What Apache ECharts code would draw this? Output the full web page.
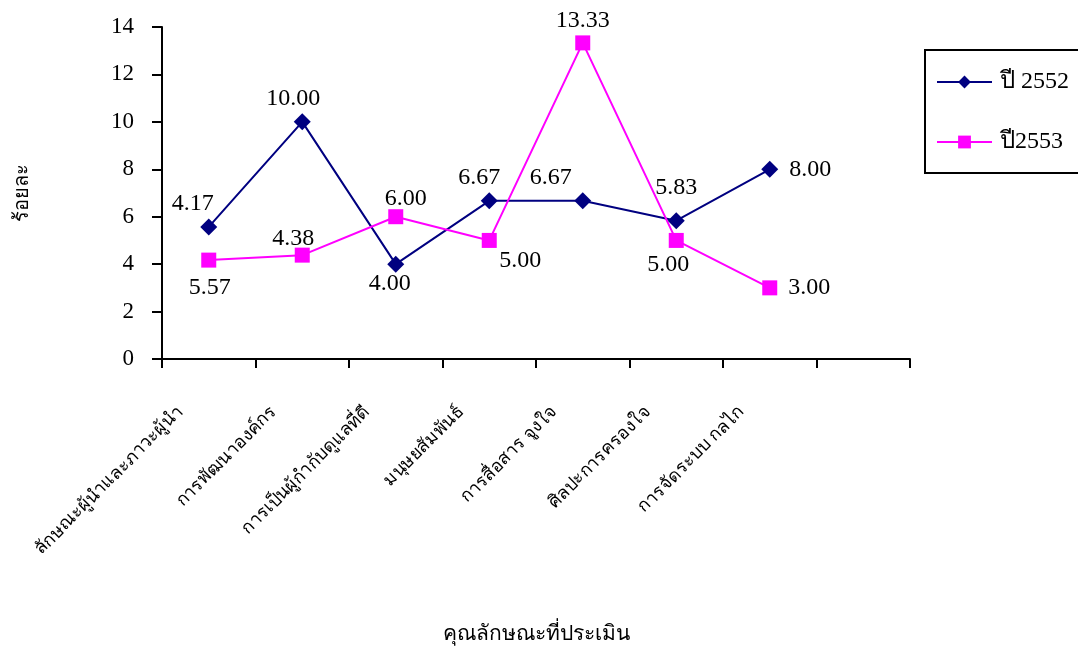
<!DOCTYPE html>
<html>
<head>
<meta charset="utf-8">
<script src="https://cdn.jsdelivr.net/npm/echarts@6/dist/echarts.min.js"></script>
<style>
html,body{margin:0;padding:0;background:#fff;}
#chart{width:1078px;height:650px;}
</style>
</head>
<body>
<div id="chart"></div>
<script>
const categories = ['ลักษณะผู้นำและภาวะผู้นำ','การพัฒนาองค์กร','การเป็นผู้กำกับดูแลที่ดี','มนุษยสัมพันธ์','การสื่อสาร จูงใจ','ศิลปะการครองใจ','การจัดระบบ กลไก',''];
const seriesNames = ['ปี 2552','ปี2553'];
const values2552 = [5.57, 10.00, 4.00, 6.67, 6.67, 5.83, 8.00];
const values2553 = [4.17, 4.38, 6.00, 5.00, 13.33, 5.00, 3.00];
const labels2552 = ['4.17','10.00','4.00','6.67','6.67','5.83','8.00'];
const labels2553 = ['5.57','4.38','6.00','5.00','13.33','5.00','3.00'];
const yTicks = {min:0, max:14, interval:2};
const xAxisTitle = 'คุณลักษณะที่ประเมิน';
const yAxisTitle = 'ร้อยละ';

const FONT = "'Liberation Serif','Noto Sans','DejaVu Sans',serif";
// label placement (style only)
const place2552 = [['top',[-16,2]],['top',[-9,2]],['bottom',[-6,-6]],['top',[-10,2]],['top',[-32,2]],['top',[0,-8]],['right',[6,0]]];
const place2553 = [['bottom',[1,3]],['top',[-9,8]],['top',[10,6]],['bottom',[31,-4]],['top',[0,2]],['bottom',[-8,0]],['right',[6,0]]];

function build(vals, labels, place){
  return vals.map((v,i)=>({
    value:v,
    label:{show:true, position:place[i][0], offset:place[i][1], formatter:labels[i],
      fontFamily:FONT, fontSize:24, color:'#000'}
  }));
}

const chart = echarts.init(document.getElementById('chart'), null, {renderer:'canvas'});
chart.setOption({
  backgroundColor:'#fff',
  animation:false,
  textStyle:{fontFamily:FONT},
  grid:{left:162, right:168, top:27, bottom:291, containLabel:false, outerBoundsMode:'none'},
  legend:{
    orient:'vertical', left:925, top:50,
    borderColor:'#000', borderWidth:2,
    padding:[20,72,19,11],
    itemWidth:55, itemHeight:16, itemGap:36,
    textStyle:{fontFamily:FONT, fontSize:24, color:'#000', padding:[0,0,0,3]},
    data:seriesNames
  },
  xAxis:{
    type:'category', data:categories, boundaryGap:true,
    name:xAxisTitle, nameLocation:'middle', nameGap:265,
    nameTextStyle:{fontFamily:FONT, fontSize:21, color:'#000'},
    axisLine:{lineStyle:{color:'#000', width:2}},
    axisTick:{show:true, length:9, lineStyle:{color:'#000', width:2}},
    axisLabel:{rotate:45, interval:0, margin:22, fontFamily:FONT, fontSize:18, color:'#000', padding:[0,40,0,0]},
    splitLine:{show:false}
  },
  yAxis:{
    type:'value', min:yTicks.min, max:yTicks.max, interval:yTicks.interval,
    name:yAxisTitle, nameLocation:'middle', nameGap:129, nameRotate:90,
    nameTextStyle:{fontFamily:FONT, fontSize:20, color:'#000'},
    axisLine:{show:true, lineStyle:{color:'#000', width:2}},
    axisTick:{show:true, length:10, lineStyle:{color:'#000', width:2}},
    axisLabel:{margin:28, fontFamily:FONT, fontSize:23, color:'#000'},
    splitLine:{show:false}
  },
  series:[
    {name:seriesNames[0], type:'line', data:build(values2552, labels2552, place2552),
     symbol:'diamond', symbolSize:17, color:'#000080',
     lineStyle:{color:'#000080', width:2}, itemStyle:{color:'#000080'}},
    {name:seriesNames[1], type:'line', data:build(values2553, labels2553, place2553),
     symbol:'rect', symbolSize:15, color:'#FF00FF',
     lineStyle:{color:'#FF00FF', width:2}, itemStyle:{color:'#FF00FF'}}
  ]
});
</script>
</body>
</html>
